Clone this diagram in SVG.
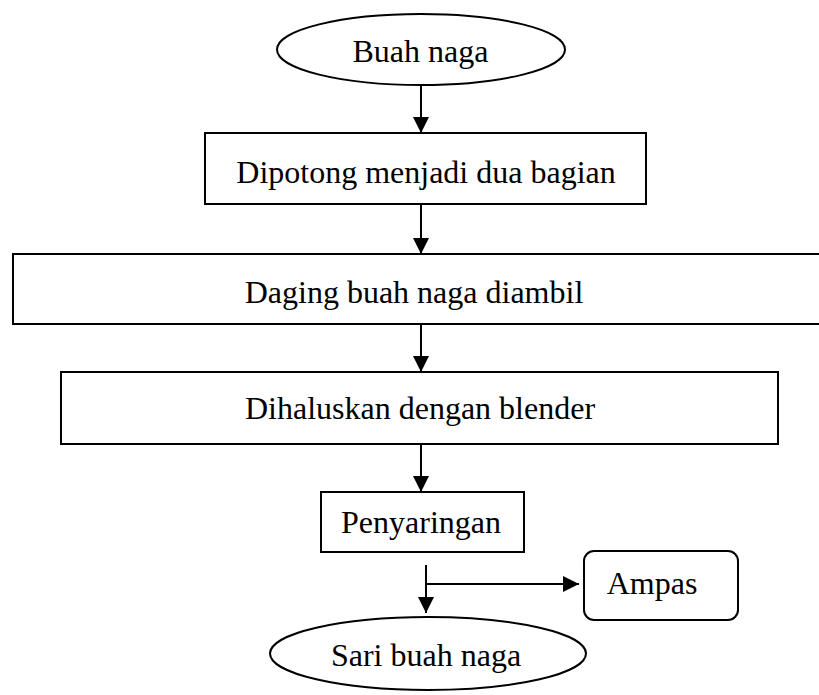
<svg xmlns="http://www.w3.org/2000/svg" width="819" height="695" viewBox="0 0 819 695">
<style>
.shape{fill:#fff;stroke:#000;stroke-width:2}
.lbl{font-family:"Liberation Serif","Times New Roman",serif;font-size:32px;fill:#000;text-anchor:middle}
.conn{fill:none;stroke:#000;stroke-width:2}
</style>
<defs>
<marker id="arr" markerUnits="userSpaceOnUse" markerWidth="16" markerHeight="16" viewBox="0 0 16 16" refX="16" refY="8" orient="auto">
<path d="M0,0 L16,8 L0,16 Z" fill="#000"/>
</marker>
</defs>
<rect width="819" height="695" fill="#fff"/>
<g id="n1"><ellipse class="shape" cx="421" cy="49.5" rx="144" ry="35.5"/><text class="lbl" x="420.5" y="62">Buah naga</text></g>
<g id="n2"><rect class="shape" x="205" y="133" width="441" height="71"/><text class="lbl" x="426" y="183">Dipotong menjadi dua bagian</text></g>
<g id="n3"><rect class="shape" x="13" y="254" width="815" height="70" stroke-width="2.5"/><text class="lbl" x="414" y="303">Daging buah naga diambil</text></g>
<g id="n4"><rect class="shape" x="61" y="372" width="717" height="72"/><text class="lbl" x="420" y="419">Dihaluskan dengan blender</text></g>
<g id="n5"><rect class="shape" x="321" y="492" width="203" height="60"/><text class="lbl" x="421" y="533">Penyaringan</text></g>
<g id="n6"><rect class="shape" x="584" y="551" width="154" height="69" rx="10" ry="10"/><text class="lbl" x="652" y="594">Ampas</text></g>
<g id="n7"><ellipse class="shape" cx="428" cy="653.5" rx="158" ry="36.5"/><text class="lbl" x="426" y="666">Sari buah naga</text></g>
<g id="connectors">
<line class="conn" x1="421" y1="85" x2="421" y2="133" marker-end="url(#arr)"/>
<line class="conn" x1="421" y1="204" x2="421" y2="254" marker-end="url(#arr)"/>
<line class="conn" x1="421" y1="324" x2="421" y2="372" marker-end="url(#arr)"/>
<line class="conn" x1="421" y1="444" x2="421" y2="492" marker-end="url(#arr)"/>
<line class="conn" x1="426" y1="565" x2="426" y2="613" marker-end="url(#arr)"/>
<line class="conn" x1="426" y1="584" x2="579" y2="584" marker-end="url(#arr)"/>
</g>
</svg>
